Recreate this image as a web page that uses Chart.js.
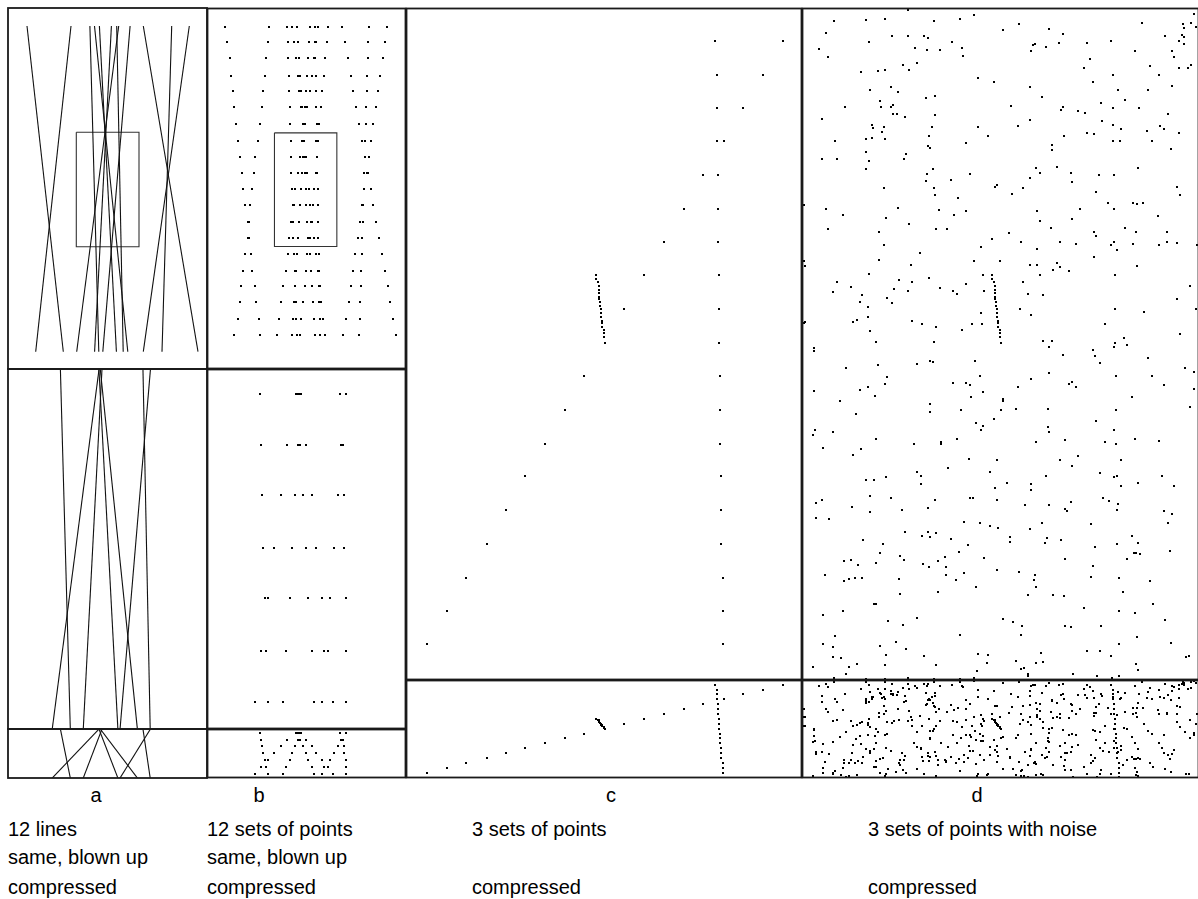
<!DOCTYPE html>
<html><head><meta charset="utf-8">
<script src="https://cdn.jsdelivr.net/npm/chart.js@4.4.1/dist/chart.umd.min.js"></script>
<style>
html,body{margin:0;padding:0;background:#fff;overflow:hidden;width:1198px;height:899px}
.lab{position:absolute;font-family:"Liberation Sans",Arial,Helvetica,sans-serif;font-size:20px;color:#000;line-height:22px;white-space:nowrap}
.ctr{transform:translateX(-50%)}
</style></head><body>
<div class="lab ctr" style="left:96px;top:784px">a</div>
<div class="lab ctr" style="left:259px;top:784px">b</div>
<div class="lab ctr" style="left:611px;top:784px">c</div>
<div class="lab ctr" style="left:977px;top:784px">d</div>
<div class="lab" style="left:8px;top:818px">12 lines</div>
<div class="lab" style="left:8px;top:846px">same, blown up</div>
<div class="lab" style="left:8px;top:876px">compressed</div>
<div class="lab" style="left:207px;top:818px">12 sets of points</div>
<div class="lab" style="left:207px;top:846px">same, blown up</div>
<div class="lab" style="left:207px;top:876px">compressed</div>
<div class="lab" style="left:472px;top:818px">3 sets of points</div>
<div class="lab" style="left:472px;top:876px">compressed</div>
<div class="lab" style="left:868px;top:818px">3 sets of points with noise</div>
<div class="lab" style="left:868px;top:876px">compressed</div>
<script>
// ---------- DATA ----------
// a: 12 lines, x at the top (y=18) and at the bottom (y=343.7)
const A_LINE_Y = [18, 343.7];
const A_LINE_TOP_X = [19, 63, 81.9, 86.5, 91.4, 103.4, 108.7, 110.7, 122.1, 135.3, 163.7, 181.3];
const A_LINE_BOTTOM_X = [55.3, 27.7, 90.8, 119.8, 108.4, 86.6, 115.2, 68.7, 94.8, 190, 154, 135.3];
// window that is blown up
const A_ZOOM_X = [68.3, 131];
const A_ZOOM_Y = [124.3, 238.7];

// b: 12 sets of points, 20 rows
const B_ROW_Y = [18.3, 33.7, 49.7, 67.3, 83, 98.7, 115.7, 132.4, 148.7, 164.7, 181.3, 197.4, 214.1, 230.3, 246.3, 263.3, 278.7, 294.7, 311.7, 327.7];
const B_ROW_X = [
 [18, 62, 80.3, 85.3, 89.7, 103, 108, 111.3, 121.3, 135.4, 162.3, 180.3],
 [19.3, 61.3, 80.8, 86.9, 90.6, 102.1, 108.3, 109.2, 119.9, 138.0, 161.8, 178.1],
 [22.3, 59, 81.3, 88.6, 91.6, 101.2, 108.5, 107.1, 118.4, 140.8, 161.3, 175.9],
 [23.7, 58, 81.8, 90.5, 92.6, 100.2, 108.8, 104.7, 116.8, 143.9, 160.7, 173.5],
 [25.3, 55.3, 82.3, 92.2, 93.5, 99.3, 109.1, 102.6, 115.3, 146.7, 160.2, 171.3],
 [26.3, 54.7, 82.8, 93.8, 94.5, 98.4, 109.3, 100.5, 113.9, 149.5, 159.7, 169.1],
 [29, 52.3, 83.3, 95.6, 95.5, 97.4, 109.6, 98.2, 112.4, 152.5, 159.2, 166.7],
 [31, 50.3, 83.8, 97.0, 95.9, 96.4, 109.2, 95.3, 111.1, 155.4, 158.6, 164.4],
 [32.3, 48, 84.1, 98.5, 96.6, 95.8, 110.1, 92.6, 109.6, 158.2, 158.1, 162.2],
 [34.7, 46.5, 84.4, 100.5, 97.6, 95.1, 110.5, 90.7, 108.7, 161.0, 157.6, 160.0],
 [35.7, 44.7, 85.0, 101.8, 98.6, 93.9, 110.6, 88.4, 107.4, 163.9, 157.1, 157.7],
 [37.3, 43, 85.6, 103.4, 99.2, 93.3, 111.1, 86.6, 106.1, 166.8, 156.5, 155.4],
 [40.5, 41.8, 85.9, 105.5, 100.5, 92.3, 111.1, 84.1, 104.3, 169.7, 156.0, 153.1],
 [41.5, 40.5, 86.3, 107.1, 101.0, 91.3, 111.3, 82.2, 103.4, 172.5, 155.5, 150.9],
 [43.7, 38.0, 87.2, 109.4, 103.2, 90.0, 111.7, 80.7, 100.4, 175.4, 154.9, 148.6],
 [44.7, 35.8, 87.8, 111.2, 104.2, 89.0, 112.0, 78.4, 98.9, 178.4, 154.4, 146.3],
 [48, 33.7, 88.2, 112.8, 105.1, 88.1, 112.2, 76.3, 97.5, 181.1, 153.9, 144.1],
 [49, 32.3, 88.7, 114.5, 106.0, 87.2, 112.5, 74.2, 96.0, 183.9, 153.4, 141.9],
 [51.3, 30.3, 89.2, 116.3, 107.0, 86.2, 112.8, 71.9, 94.4, 186.9, 152.8, 139.5],
 [53, 26.3, 89.7, 118.0, 108.0, 85.3, 113.0, 69.7, 93.0, 189.7, 152.3, 136.0]
];
const B_ZOOM_X = [67.3, 130];
const B_ZOOM_Y = [124.7, 238.7];

// c: 3 sets of points
const C_VERTICAL_X = [309, 309.3, 311.3, 311.3, 311.3, 312.3, 312.3, 312.3, 313.3, 313.3, 313.3, 314.3, 314.3, 314.3, 315.3, 315.3, 315.3, 317.3, 317.3, 317.3];
const C_VERTICAL_Y = [-1, 33, 67, 100, 133, 167, 201, 234, 267, 301, 335, 368, 402, 436, 468, 502, 536, 570, 603, 636];
const C_DIAGONAL_X = [20.3, 40.3, 59.3, 80.3, 99.3, 119.3, 139.3, 159.3, 178.3, 199.3, 218.3, 238.3, 258.3, 278.3, 297.3, 318.3, 337.3, 357.3, 377.3, 397];
const C_DIAGONAL_Y = [636, 603, 570, 536, 502, 468, 436, 402, 368, 335, 301, 267, 234, 201, 167, 133, 100, 67, 33, -1];
const C_STEEP_X = [190, 190, 192, 192.7, 192.7, 193, 193, 193.3, 194, 194, 195, 195, 195.3, 196.3, 196.3, 196.3, 198, 198, 198.3, 199.3];
const C_STEEP_Y = [267, 271, 274.3, 278, 282, 285.3, 288.7, 291.3, 294.3, 297.7, 301.3, 305.3, 308.7, 312.7, 315.3, 318.7, 322, 325.3, 328.7, 335.3];

// d: the same 3 sets plus noise points
const D_NOISE = [
[106,2],[172,7],[83,11],[64,12],[32,13],[132,13],[158,11],[217,16],[392,6],[340,15],[381,16],[389,15],[382,20],[394,19],[24,25],[201,22],[247,21],[261,26],[90,28],[106,28],[122,28],[126,30],[363,28],[380,27],[382,29],[67,34],[150,34],[231,37],[233,36],[257,35],[285,35],[382,36],[17,41],[113,40],[125,42],[138,42],[160,40],[229,43],[244,39],[333,43],[370,43],[26,49],[161,48],[288,51],[372,49],[115,55],[101,57],[107,62],[59,64],[76,63],[83,62],[348,58],[282,60],[377,60],[386,60],[389,57],[176,70],[192,74],[291,74],[370,78],[228,79],[89,79],[68,82],[96,84],[316,82],[346,82],[124,90],[133,88],[240,89],[323,92],[78,93],[43,99],[79,99],[89,99],[91,97],[209,98],[261,99],[259,102],[276,103],[283,105],[299,95],[91,106],[95,106],[103,109],[133,107],[20,111],[228,112],[366,106],[300,113],[70,117],[71,120],[82,119],[130,119],[176,119],[216,118],[311,117],[319,121],[358,118],[362,121],[345,123],[377,125],[80,124],[64,131],[70,130],[83,131],[127,128],[186,128],[262,128],[285,125],[292,126],[33,133],[126,138],[128,140],[164,135],[250,137],[250,142],[350,133],[369,141],[20,151],[35,151],[64,144],[104,146],[102,151],[67,153],[64,161],[131,161],[234,160],[255,159],[238,165],[269,165],[125,166],[168,166],[124,173],[149,172],[228,170],[270,174],[336,160],[82,180],[132,180],[193,179],[195,177],[221,180],[375,179],[133,187],[210,186],[294,184],[378,187],[156,190],[2,197],[24,201],[96,200],[137,202],[164,203],[235,203],[306,195],[331,195],[335,196],[341,195],[41,207],[84,210],[152,207],[238,213],[270,211],[356,208],[26,221],[107,216],[134,221],[145,221],[77,224],[207,225],[249,220],[292,224],[294,228],[323,220],[334,224],[365,224],[190,231],[82,237],[179,239],[219,234],[235,241],[274,236],[309,237],[315,242],[331,236],[357,237],[365,234],[375,235],[395,237],[118,245],[77,252],[109,257],[2,253],[3,258],[172,253],[198,253],[228,257],[235,257],[255,255],[258,259],[251,262],[267,263],[292,249],[335,258],[67,266],[127,270],[97,272],[35,274],[110,274],[181,267],[221,274],[164,276],[49,279],[92,281],[138,280],[31,284],[60,287],[106,283],[151,283],[155,286],[182,283],[226,286],[241,287],[388,278],[58,294],[85,290],[90,295],[66,299],[375,291],[179,305],[229,307],[342,304],[394,301],[66,309],[51,314],[55,312],[2,315],[3,314],[110,313],[120,316],[134,319],[170,316],[180,316],[68,323],[160,322],[303,316],[322,330],[378,326],
[74,334],[132,334],[241,333],[250,333],[247,339],[312,339],[325,337],[291,342],[293,348],[298,355],[12,340],[12,343],[261,347],[346,350],[44,360],[76,357],[115,356],[128,353],[131,354],[173,353],[383,360],[392,364],[247,365],[85,369],[229,371],[350,368],[83,376],[151,375],[164,375],[168,377],[216,379],[267,376],[270,374],[274,379],[362,377],[392,381],[12,383],[58,382],[66,379],[181,384],[73,388],[169,389],[330,389],[38,393],[201,391],[201,393],[128,396],[388,399],[128,404],[199,402],[214,401],[246,401],[54,406],[192,411],[294,413],[174,415],[181,418],[246,419],[247,424],[179,422],[312,422],[13,422],[11,427],[31,424],[74,431],[112,436],[139,434],[155,431],[234,434],[263,432],[303,434],[333,431],[357,433],[21,440],[59,441],[51,447],[276,448],[167,451],[195,452],[258,452],[319,452],[146,460],[270,458],[188,464],[115,464],[119,476],[64,472],[72,472],[84,469],[244,468],[298,465],[312,469],[205,475],[229,476],[229,482],[193,480],[319,478],[336,475],[360,468],[372,478],[68,488],[89,490],[133,492],[168,490],[171,490],[195,492],[301,490],[307,493],[316,496],[14,495],[20,492],[50,499],[126,500],[68,504],[223,497],[247,497],[263,501],[265,503],[269,494],[362,503],[370,506],[14,510],[27,511],[162,514],[178,515],[188,518],[196,520],[228,521],[240,515],[289,516],[366,515],[103,524],[126,524],[134,525],[120,528],[128,529],[149,531],[61,532],[208,529],[208,534],[245,530],[243,535],[259,532],[330,528],[336,535],[166,537],[293,539],[78,545],[157,544],[332,545],[334,545],[338,546],[368,543],[98,548],[102,552],[143,549],[182,550],[263,551],[325,551],[42,553],[49,552],[56,557],[74,555],[121,556],[127,559],[136,553],[144,559],[291,558],[195,562],[23,567],[42,573],[47,571],[53,570],[97,571],[144,567],[154,572],[162,565],[217,564],[233,567],[232,572],[289,569],[348,573],[234,579],[174,579],[98,586],[136,584],[226,587],[251,587],[262,588],[321,584],[72,596],[74,596],[351,596],[21,607],[282,600],[333,605],[115,610],[86,613],[101,617],[201,611],[211,614],[220,618],[263,618],[269,619],[299,618],[363,612],[158,627],[219,627],[33,628],[335,629],[31,639],[78,638],[94,634],[104,641],[369,635],[285,643],[298,643],[239,645],[309,648],[31,649],[39,650],[84,647],[122,648],[176,646],[186,647],[384,649],[387,648],[11,659],[47,659],[55,656],[83,657],[134,657],[185,655],[214,653],[234,655],[241,654],[334,656],[336,662],[44,666],[175,663],[219,661],[222,660],[226,666],[226,668],[271,666],[295,668],[310,670],[317,668],[32,670],[64,671],[83,671],[106,670],[132,671],[158,671],[172,670]
];

// ---------- LAYOUT (page pixels) ----------
const LAYOUT = {
  a1:[8,8,199,361], a2:[8,369,199,360], a3:[8,729,199,49],
  b1:[207,8,199,361], b2:[207,369,199,360], b3:[207,729,199,49],
  c1:[406,8,396,672], c2:[406,680,396,98],
  d1:[802,8,397,672], d2:[802,680,397,98]
};
const INK = '#111';

// crisp 2x2 square used as the point marker
const DOT = document.createElement('canvas');
DOT.width = 2; DOT.height = 2;
(function(){ const g = DOT.getContext('2d'); g.fillStyle = '#000'; g.fillRect(0,0,2,2); })();

const framePlugin = {
  id:'frame',
  beforeDatasetsDraw(chart){ chart.ctx.imageSmoothingEnabled = false; },
  afterDatasetsDraw(chart){
    const {ctx, chartArea:a} = chart;
    ctx.save(); ctx.strokeStyle = '#1a1a1a'; ctx.lineWidth = 1.8;
    ctx.strokeRect(a.left, a.top, a.right-a.left, a.bottom-a.top);
    ctx.restore();
  }
};

function panel(key, xr, yr, datasets){
  const [l,t,w,h] = LAYOUT[key];
  const c = document.createElement('canvas');
  c.width = w+2; c.height = h+2;
  c.style.cssText = `position:absolute;left:${l-1}px;top:${t-1}px;width:${w+2}px;height:${h+2}px`;
  document.body.appendChild(c);
  new Chart(c, {
    type:'scatter',
    data:{datasets},
    options:{
      responsive:false, animation:false, devicePixelRatio:1, events:[],
      layout:{padding:1},
      plugins:{legend:{display:false}, tooltip:{enabled:false}},
      scales:{
        x:{type:'linear', display:false, min:xr[0], max:xr[1]},
        y:{type:'linear', display:false, min:yr[0], max:yr[1], reverse:true}
      }
    },
    plugins:[framePlugin]
  });
}

function lineSets(){
  return A_LINE_TOP_X.map((x0,i)=>({
    data:[{x:x0,y:A_LINE_Y[0]},{x:A_LINE_BOTTOM_X[i],y:A_LINE_Y[1]}],
    showLine:true, borderColor:INK, borderWidth:1.1, pointRadius:0
  }));
}
function rectSet(xr, yr){
  return {data:[{x:xr[0],y:yr[0]},{x:xr[1],y:yr[0]},{x:xr[1],y:yr[1]},{x:xr[0],y:yr[1]},{x:xr[0],y:yr[0]}],
    showLine:true, borderColor:'#333', borderWidth:1.1, pointRadius:0};
}
function pts(data){
  return {data, showLine:false, pointStyle:DOT, pointRadius:1.5, hoverRadius:1.5,
    backgroundColor:'#000', borderWidth:0};
}
function bPoints(){
  const out = [];
  B_ROW_X.forEach((row,r)=>row.forEach(x=>out.push({x, y:B_ROW_Y[r]})));
  return out;
}
const zip = (xs, ys) => xs.map((x,i)=>({x, y:ys[i]}));
const cSets = () => [pts(zip(C_VERTICAL_X,C_VERTICAL_Y)), pts(zip(C_DIAGONAL_X,C_DIAGONAL_Y)), pts(zip(C_STEEP_X,C_STEEP_Y))];
const noiseSet = () => pts(D_NOISE.map(p=>({x:p[0], y:p[1]})));

// a
panel('a1', [0,199], [0,361], [...lineSets(), rectSet(A_ZOOM_X, A_ZOOM_Y)]);
panel('a2', A_ZOOM_X, A_ZOOM_Y, lineSets());
panel('a3', A_ZOOM_X, A_ZOOM_Y, lineSets());
// b
panel('b1', [0,199], [0,361], [pts(bPoints()), rectSet(B_ZOOM_X, B_ZOOM_Y)]);
panel('b2', B_ZOOM_X, B_ZOOM_Y, [pts(bPoints())]);
panel('b3', B_ZOOM_X, B_ZOOM_Y, [pts(bPoints())]);
// c
panel('c1', [0,396], [0,672], cSets());
panel('c2', [0,396], [4,670], cSets());
// d
panel('d1', [0,397], [0,672], [...cSets(), noiseSet()]);
panel('d2', [0,397], [4,670], [...cSets(), noiseSet()]);
</script>
</body></html>
